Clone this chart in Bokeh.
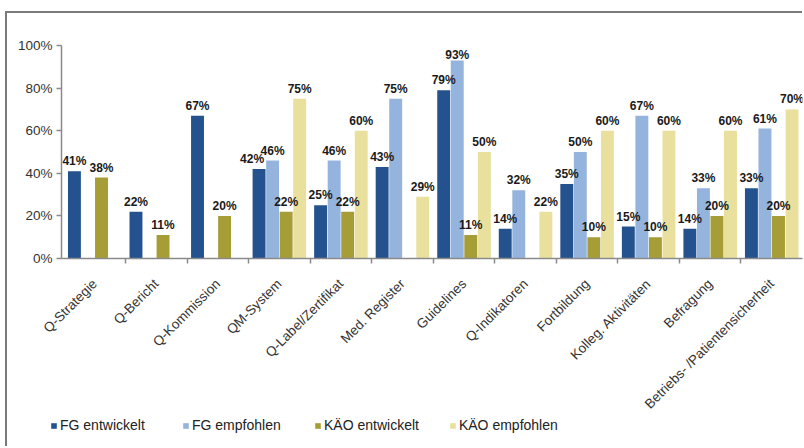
import math

from bokeh.core.properties import value
from bokeh.embed import file_html
from bokeh.layouts import column
from bokeh.models import (ColumnDataSource, FixedTicker, LabelSet, Legend,
                          LegendItem, PrintfTickFormatter)
from bokeh.plotting import figure
from bokeh.resources import INLINE

# Categories of quality activities
categories = [
    "Q-Strategie", "Q-Bericht", "Q-Kommission", "QM-System", "Q-Label/Zertifikat",
    "Med. Register", "Guidelines", "Q-Indikatoren", "Fortbildung",
    "Kolleg. Aktivitäten", "Befragung", "Betriebs- /Patientensicherheit",
]

# Shares in percent (None = no bar)
fg_entwickelt = [41, 22, 67, 42, 25, 43, 79, 14, 35, 15, 14, 33]
fg_empfohlen = [None, None, None, 46, 46, 75, 93, 32, 50, 67, 33, 61]
kaeo_entwickelt = [38, 11, 20, 22, 22, None, 11, None, 10, 10, 20, 20]
kaeo_empfohlen = [None, None, None, 75, 60, 29, 50, 22, 60, 60, 60, 70]

series_names = ["FG entwickelt", "FG empfohlen", "KÄO entwickelt", "KÄO empfohlen"]
series_values = [fg_entwickelt, fg_empfohlen, kaeo_entwickelt, kaeo_empfohlen]

y_ticks = [0, 20, 40, 60, 80, 100]

colors = ["#24528f", "#94b3dd", "#a69d36", "#e8e09c"]
offsets = [-0.33, -0.11, 0.11, 0.33]
bar_width = 0.21
FONT = "Liberation Sans"

# ---- main bar chart -------------------------------------------------------
p = figure(
    width=797, height=420,
    x_range=(-0.04, len(categories)), y_range=(0, 100),
    output_backend="svg", toolbar_location=None,
    min_border_left=54, min_border_right=2, min_border_top=32, min_border_bottom=175,
)
p.outline_line_color = None
p.xgrid.visible = False
p.ygrid.visible = False

for k, (name, vals, color, off) in enumerate(zip(series_names, series_values, colors, offsets)):
    xs, tops, texts, dxs, dys = [], [], [], [], []
    for i, v in enumerate(vals):
        if v is None:
            continue
        xs.append(i + 0.5 + off)
        tops.append(v)
        texts.append(f"{v}%")
        # nudge a label left when the neighbouring label sits at almost the same height
        nxt = series_values[k + 1][i] if k + 1 < len(series_values) else None
        dxs.append(-7 if (nxt is not None and 0 <= nxt - v < 6) else 0)
        # labels right under the top edge sit closer to their bar
        dys.append(1 if v > 90 else 6)
    src = ColumnDataSource(dict(x=xs, top=tops, label=texts, dx=dxs, dy=dys))
    p.vbar(x="x", top="top", width=bar_width, bottom=0, source=src,
           fill_color=color, line_color=None)
    labels = LabelSet(x="x", y="top", text="label", source=src,
                      x_offset="dx", y_offset="dy",
                      text_align="center", text_baseline="alphabetic",
                      text_font=value(FONT), text_font_size=value("12px"),
                      text_font_style="bold", text_color="#1a1a1a")
    p.add_layout(labels)

# y axis
yax = p.yaxis[0]
yax.ticker = FixedTicker(ticks=y_ticks, minor_ticks=[])
yax.formatter = PrintfTickFormatter(format="%d%%")
yax.axis_line_color = "#8a8a8a"
yax.axis_line_width = 1.5
yax.major_tick_line_color = "#8a8a8a"
yax.major_tick_line_width = 1.5
yax.major_tick_in = 0
yax.major_tick_out = 5
yax.minor_tick_line_color = None
yax.major_label_standoff = 4
yax.major_label_text_font = FONT
yax.major_label_text_font_size = "13.5px"
yax.major_label_text_color = "#333333"

# x axis: labels at category centres, tick marks at category boundaries
xax = p.xaxis[0]
centers = [i + 0.5 for i in range(len(categories))]
bounds = [i for i in range(1, len(categories))]
xax.ticker = FixedTicker(ticks=centers, minor_ticks=bounds)
xax.major_label_overrides = {c: name for c, name in zip(centers, categories)}
xax.major_label_orientation = math.pi / 4
xax.axis_line_color = "#8a8a8a"
xax.axis_line_width = 1.5
xax.major_tick_line_color = None
xax.major_tick_in = 0
xax.major_tick_out = 0
xax.minor_tick_line_color = "#8a8a8a"
xax.minor_tick_line_width = 1.5
xax.minor_tick_in = 0
xax.minor_tick_out = 5
xax.major_label_standoff = 18
xax.major_label_text_font = FONT
xax.major_label_text_font_size = "13.5px"
xax.major_label_text_color = "#333333"

# ---- legend strip underneath ------------------------------------------------
pl = figure(
    width=797, height=35, x_range=(0, 1), y_range=(0, 1),
    output_backend="svg", toolbar_location=None,
    x_axis_location=None, y_axis_location=None,
    min_border_left=54, min_border_right=2, min_border_top=0, min_border_bottom=0,
)
pl.outline_line_color = None
pl.xgrid.visible = False
pl.ygrid.visible = False
pl.background_fill_alpha = 0
pl.border_fill_alpha = 0
pl.styles = {"margin-left": "-11px", "margin-top": "-20px"}

legend_items = []
for name, color in zip(series_names, colors):
    # swatch-only renderers, kept below the visible range
    r = pl.vbar(x=[0.5], top=[-1], bottom=[-2], width=0.1,
                fill_color=color, line_color=None)
    legend_items.append(LegendItem(label=name, renderers=[r]))

legend = Legend(
    items=legend_items, orientation="horizontal", location=(0, 15),
    glyph_width=7, glyph_height=7, label_standoff=3, spacing=30, label_width=92,
    padding=0, margin=0, border_line_color=None, background_fill_alpha=0,
    label_text_font=FONT, label_text_font_size="14px", label_text_color="#222222",
)
pl.add_layout(legend)

# grey frame line along the top and left edge of the chart box
layout = column(p, pl, spacing=0, styles={
    "margin-left": "7px",
    "margin-top": "13px",
    "box-shadow": "-2px -2px 0 0 #7a7a7a",
})

open("out.html", "w").write(file_html(layout, INLINE))
